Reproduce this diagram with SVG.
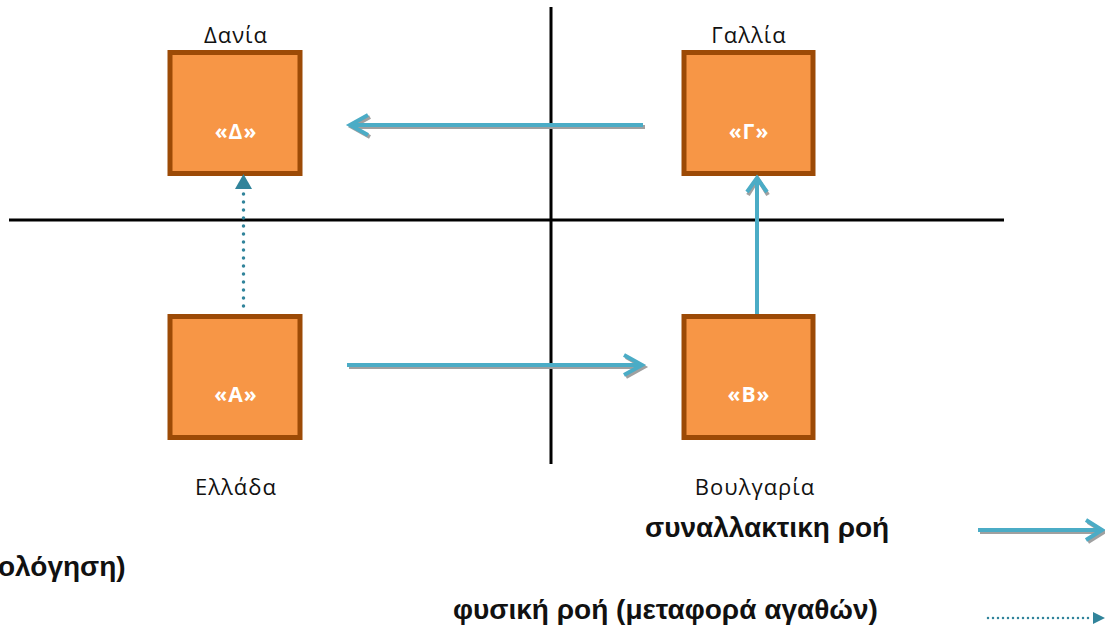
<svg xmlns="http://www.w3.org/2000/svg" width="1105" height="635" viewBox="0 0 1105 635">
<style>
.box{fill:#F79646;stroke:#9C4A06;stroke-width:5}
.lbl{font-family:"Open Sans","DejaVu Sans",sans-serif;font-size:22px;letter-spacing:1px;fill:#111;text-anchor:middle}
.in{font-family:"Open Sans","DejaVu Sans",sans-serif;font-size:21px;letter-spacing:1px;font-weight:bold;fill:#fff;text-anchor:middle}
.leg{font-family:"Liberation Sans",Arial,sans-serif;font-size:28px;font-weight:bold;fill:#111}
.ax{stroke:#000;stroke-width:3;fill:none}
.sh{stroke:#A0A0A0;stroke-width:4;fill:none;stroke-linejoin:miter}
.ar{stroke:#4BACC6;stroke-width:4;fill:none;stroke-linejoin:miter}
.dot{stroke:#31849B;stroke-width:3.5;stroke-linecap:round;stroke-dasharray:0 8;fill:none}
.dot2{stroke:#31849B;stroke-width:2.5;stroke-linecap:round;stroke-dasharray:0 5;fill:none}
.tri{fill:#31849B}
</style>
<g id="axes">
<line class="ax" x1="551" y1="7" x2="551" y2="464"/>
<line class="ax" x1="9" y1="220" x2="1004" y2="220"/>
</g>
<g id="node-D">
<rect class="box" x="170" y="52.5" width="130" height="121"/>
<text class="in" x="236" y="139">«Δ»</text>
<text class="lbl" x="236" y="43">Δανία</text>
</g>
<g id="node-G">
<rect class="box" x="684" y="52.5" width="129" height="121"/>
<text class="in" x="749" y="139">«Γ»</text>
<text class="lbl" x="749" y="43">Γαλλία</text>
</g>
<g id="node-A">
<rect class="box" x="170" y="316.5" width="130" height="121"/>
<text class="in" x="236" y="402">«Α»</text>
<text class="lbl" x="236" y="495">Ελλάδα</text>
</g>
<g id="node-B">
<rect class="box" x="684" y="316.5" width="129" height="121"/>
<text class="in" x="749" y="402">«Β»</text>
<text class="lbl" x="755" y="495">Βουλγαρία</text>
</g>
<g id="connectors">
<line class="sh" x1="645" y1="127" x2="354" y2="127"/>
<polyline class="sh" points="370,117 352,127 370,137"/>
<line class="ar" x1="643" y1="125" x2="352" y2="125"/>
<polyline class="ar" points="368,115 350,125 368,135"/>
<line class="sh" x1="349" y1="367" x2="640" y2="367"/>
<polyline class="sh" points="626,357 644,367 626,377"/>
<line class="ar" x1="347" y1="365" x2="638" y2="365"/>
<polyline class="ar" points="624,355 642,365 624,375"/>
<polyline class="sh" points="748,195 758,179 768,195"/>
<line class="ar" x1="757" y1="314" x2="757" y2="180"/>
<polyline class="ar" points="747,192 757,178 767,192"/>
<line class="dot" x1="243.5" y1="306" x2="243.5" y2="192"/>
<polygon class="tri" points="243.5,174 235,189 252,189"/>
</g>
<g id="legend">
<text class="leg" x="645" y="537">συναλλακτικη ροή</text>
<line class="sh" x1="980" y1="532" x2="1100" y2="532"/>
<polyline class="sh" points="1088,522 1104,532 1088,542"/>
<line class="ar" x1="978" y1="530" x2="1100" y2="530"/>
<polyline class="ar" points="1086,520 1102,530 1086,540"/>
<text class="leg" x="-2" y="576">ολόγηση)</text>
<text class="leg" x="453" y="619">φυσική ροή (μεταφορά αγαθών)</text>
<line class="dot2" x1="988" y1="618" x2="1092" y2="618"/>
<polygon class="tri" points="1105,618 1093,612 1093,624"/>
</g>
</svg>
